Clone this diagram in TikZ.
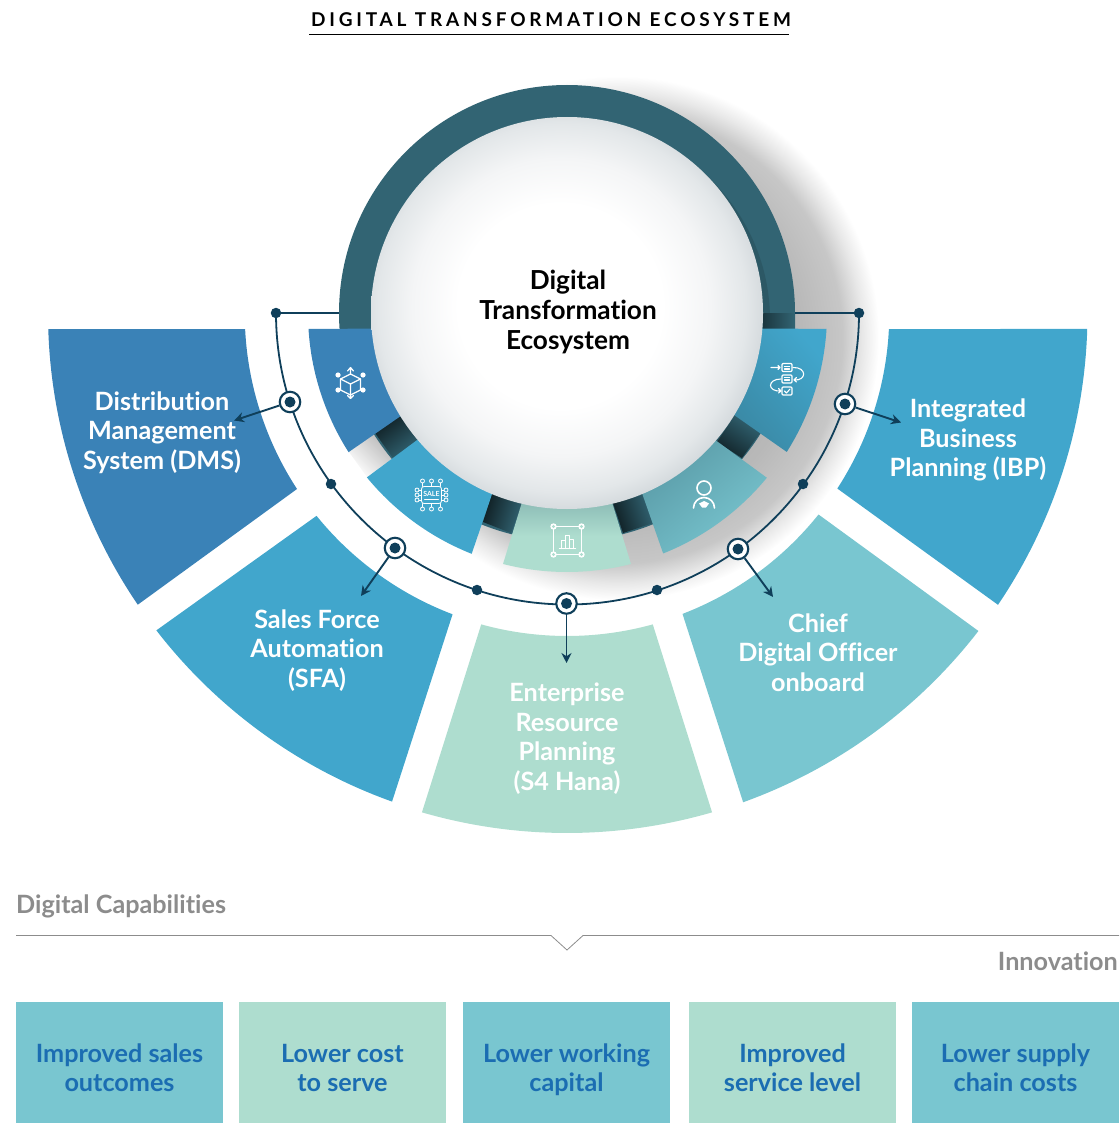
\documentclass[tikz,border=0pt]{standalone}
\usepackage{fontspec}
\setmainfont{Lato}[Ligatures=NoCommon]
\usetikzlibrary{arrows.meta,calc}
\definecolor{cDMS}{HTML}{3A82B7}
\definecolor{cSFA}{HTML}{41A6CC}
\definecolor{cERP}{HTML}{AEDDCF}
\definecolor{cCDO}{HTML}{79C6D0}
\definecolor{cLine}{HTML}{0F3F5A}
\definecolor{cRing}{HTML}{326473}
\definecolor{cBlue}{HTML}{1B6DB2}
\definecolor{cGrey}{HTML}{8C8C8C}
\definecolor{dA}{HTML}{F4F5F6}
\definecolor{dB}{HTML}{E3E7E9}
\definecolor{dC}{HTML}{CDD3D7}
\pgfdeclareradialshading{dischade}{\pgfpoint{-1.2bp}{1.2bp}}{color(0bp)=(white);color(13bp)=(white);color(19bp)=(dA);color(23.5bp)=(dB);color(27bp)=(dC);color(50bp)=(dC)}
\pgfdeclareradialshading{castshade}{\pgfpoint{0bp}{0bp}}{color(0bp)=(white!70!black);color(17.2bp)=(white!72!black);color(21.5bp)=(white!78!black);color(23.4bp)=(white!91!black);color(25bp)=(white);color(50bp)=(white)}
\tikzset{
  x=1pt,y=-1pt,
  lab/.style={font=\fontsize{25.2}{29.5}\selectfont\bfseries,align=center,text=white,inner sep=0pt},
  boxlab/.style={font=\fontsize{25.2}{29.5}\selectfont\bfseries,align=center,text=cBlue,inner sep=0pt},
  grey/.style={font=\fontsize{25.2}{29}\selectfont\bfseries,text=cGrey,inner sep=0pt},
  dot/.style={circle,fill=cLine,minimum size=10.5pt,inner sep=0pt},
  mark ring/.style={circle,draw=cLine,line width=2.1pt,fill=white,minimum size=20.5pt,inner sep=0pt},
  link/.style={cLine,line width=1.8pt},
  arw/.style={cLine,line width=1.9pt,-{Stealth[length=10pt,width=10pt]}},
  ico/.style={white,line width=1.2pt,line cap=round,line join=round},
  bx/.style={minimum height=121pt,anchor=north west,inner sep=0pt}
}
\newcommand{\sectorpath}[6]{(#1:#5) arc[start angle=#1,end angle=#2,radius=#5] -- (#3:#6) arc[start angle=#3,end angle=#4,radius=#6] -- cycle}
\begin{document}
\begin{tikzpicture}
\useasboundingbox (0,0) rectangle (1119,1123);
% cast shadow of the ring
\shade[shading=castshade] (617,338) circle[radius=262];
\shade[left color=white!72!black,right color=white,shading angle=-45] (393,458) -- (375,433) -- (349,452) -- (367,477) -- cycle;

\node[font=\fontsize{19}{22}\selectfont\bfseries,inner sep=0pt,text=black] (title) at (551,20) {\addfontfeature{LetterSpace=20}DIGITAL TRANSFORMATION ECOSYSTEM};
\coordinate (ulA) at (309,34.5); \coordinate (ulB) at (789,34.5);
\draw[black,line width=0.8pt] (ulA) -- (ulB);

\begin{scope}[shift={(567,313)}]
% dark ring
\fill[cRing] (0,0) circle[radius=228];
\fill[cRing!88!black] (7,7) circle[radius=196];
\shade[left color=cRing!30!black,right color=cRing,shading angle=37] (-192,120) -- (-168,102) -- (-149,127) -- (-174,145) -- cycle;
\shade[left color=cRing!30!black,right color=cRing,shading angle=73] (-75,180) -- (-45,190) -- (-56,220) -- (-84,209) -- cycle;
\shade[left color=cRing!30!black,right color=cRing,shading angle=108] (46,190) -- (76,182) -- (86,210) -- (56,220) -- cycle;
\shade[left color=cRing!35!black,right color=cRing,shading angle=145] (150,129) -- (168,102) -- (193,120) -- (175,145) -- cycle;
\shade[left color=cRing!55!black,right color=cRing] (196,0) -- (228,0) -- (228,16) -- (196,16) -- cycle;
% large sectors
\fill[cDMS] \sectorpath{178.23}{145.8}{146.9}{177.15}{519}{322.3};
\fill[cSFA] \sectorpath{142.3}{109.7}{110.8}{141}{519}{322.3};
\fill[cERP] \sectorpath{106.2}{73.8}{74.6}{105.4}{520}{323};
\fill[cCDO] \sectorpath{70.2}{37.7}{38.7}{69}{520}{322.3};
\fill[cSFA] \sectorpath{34.1}{1.76}{2.85}{33}{520.5}{322.3};
% small sectors
\fill[cDMS] \sectorpath{176.46}{147.5}{148.3}{175.3}{259}{190};
\fill[cSFA] \sectorpath{140.6}{111.6}{112.6}{139.6}{259}{190};
\shade[top color=cERP!70!cRing,bottom color=cERP,middle color=cERP] \sectorpath{104.3}{75.7}{76.7}{103.3}{259}{190};
\shade[left color=cCDO!55!cRing,right color=cCDO,shading angle=40] \sectorpath{68.2}{39.5}{40.7}{67.3}{259}{190};
\shade[left color=cSFA!55!cRing,right color=cSFA,shading angle=130] \sectorpath{32.3}{3.5}{4.7}{31.3}{260}{190};
% centre disc
\shade[shading=dischade] (0,0) circle[radius=196];
\end{scope}

\node[font=\fontsize{26.2}{30}\selectfont\bfseries,align=center,text=black,inner sep=0pt] (core) at (568,313.5) {\strut Digital\\Transformation\\Ecosystem\strut};

% timeline arc and markers
\coordinate (arcL) at (276,313);
\coordinate (arcR) at (859,313);
\coordinate (ringL) at (339,313);
\coordinate (ringR) at (795,313);
\draw[link] (arcL) arc[start angle=180,end angle=0,radius=291.5];
\draw[link] (arcL) -- (ringL);
\draw[link] (arcR) -- (ringR);
\node[dot] (d0) at (arcL) {};
\node[dot] (d1) at (331,484) {};
\node[dot] (d2) at (477,590) {};
\node[dot] (d3) at (657,590) {};
\node[dot] (d4) at (803,484) {};
\node[dot] (d5) at (arcR) {};
\node[mark ring] (m1) at (290,402) {};
\node[mark ring] (m2) at (395,548) {};
\node[mark ring] (m3) at (566.5,603.5) {};
\node[mark ring] (m4) at (738,549) {};
\node[mark ring] (m5) at (845,404) {};
\foreach \m in {m1,m2,m3,m4,m5}{\fill[cLine] (\m.center) circle[radius=5.5];}
\coordinate (t1) at (234,420.5);
\coordinate (t2) at (361,596);
\coordinate (t3) at (566.5,663);
\coordinate (t4) at (773,597);
\coordinate (t5) at (901,422.5);
\foreach \a/\b in {m1/t1,m2/t2,m3/t3,m4/t4,m5/t5}{\draw[arw] (\a) -- (\b);}

% sector labels
\node[lab] (l1) at (162,433.6) {\strut Distribution\\Management\\System (DMS)\strut};
\node[lab] (l2) at (317,651.6) {\strut Sales Force\\Automation\\(SFA)\strut};
\node[lab] (l3) at (567,739.9) {\strut Enterprise\\Resource\\Planning\\(S4 Hana)\strut};
\node[lab] (l4) at (818,655.6) {\strut Chief\\Digital Officer\\onboard\strut};
\node[lab] (l5) at (968,441.1) {\strut Integrated\\Business\\Planning (IBP)\strut};

% icon: cube
\begin{scope}[ico,shift={(350.5,383)}]
\draw (0,-9) -- (10,-4) -- (10,7) -- (0,12) -- (-10,7) -- (-10,-4) -- cycle;
\draw (-10,-4) -- (0,1) -- (10,-4) (0,1) -- (0,12);
\draw (0,-9) -- (0,-15) (-3,-12) -- (0,-15.5) -- (3,-12);
\draw (0,12) -- (0,15) (-3,12.5) -- (0,15.5) -- (3,12.5);
\foreach \p in {(-12.5,-8),(12.5,-8),(-12.5,7),(12.5,7)} {\fill[white] \p circle[radius=2.6];}
\end{scope}
% icon: sale chip
\begin{scope}[ico,line width=0.8pt,shift={(431.5,495)}]
\draw[rounded corners=2.5pt] (-10,-8.5) rectangle (10,8.5);
\node[font=\fontsize{7}{8}\selectfont\bfseries,text=white,inner sep=0pt] at (0,-1.5) {SALE};
\draw (-7,4.5) -- (7,4.5);
\foreach \x in {-9,0,9}{\draw (\x,-8.5) -- (\x,-12); \draw (\x,-14) circle[radius=2]; \draw (\x,8.5) -- (\x,12); \draw (\x,14) circle[radius=2];}
\foreach \y in {-5,5,0}{\draw (-10,\y) -- (-12.5,\y); \draw (-14.5,\y) circle[radius=2]; \draw (10,\y) -- (12.5,\y); \draw (14.5,\y) circle[radius=2];}
\end{scope}
% icon: chart
\begin{scope}[ico,line width=1.4pt,shift={(567.5,540.5)}]
\draw (-14,-14) rectangle (14,14);
\foreach \p in {(-14,-14),(14,-14),(-14,14),(14,14)} {\fill[white] \p circle[radius=3.2]; \fill[cERP] \p circle[radius=1.6];}
\draw (-8,8) -- (8,8) (-6,8) -- (-6,0) -- (-2,0) -- (-2,8) (-2,-5) rectangle (2,8) (2,-1) -- (6,-1) -- (6,8);
\end{scope}
% icon: person
\begin{scope}[ico,line width=1.6pt,shift={(704,488)}]
\draw (0,0) circle[radius=7];
\draw (-10.5,20) arc[start angle=180,end angle=360,radius=10.5];
\fill[white] (-5,15.5) -- (0,13) -- (5,15.5) -- (2,19.5) -- (-2,19.5) -- cycle;
\end{scope}
% icon: flow
\begin{scope}[ico,line width=1.1pt,shift={(787,380)}]
\draw[rounded corners=1pt] (-5,-16.5) rectangle (5,-8.5);
\draw[rounded corners=1pt] (-5,-5) rectangle (5,3);
\draw[rounded corners=1pt] (-5,7) rectangle (5,15);
\draw (-2.5,-13.5) -- (2.5,-13.5) (-2.5,-11) -- (2.5,-11) (-2.5,-2.5) -- (2.5,-2.5) (-2.5,0) -- (2.5,0);
\draw (-2.5,11) -- (-0.5,13) -- (3,9);
\draw (-16,-12.5) -- (-7,-12.5) (-9,-14.5) -- (-7,-12.5) -- (-9,-10.5);
\draw (6,-12.5) .. controls (20,-13) and (20,1) .. (7,0) (9.5,-2.5) -- (7,0) -- (9.5,2);
\draw (-6,-1) .. controls (-20,-1) and (-20,12) .. (-6,11) (-8.5,8.5) -- (-6,11) -- (-8.5,13);
\end{scope}

% lower band
\node[grey,anchor=west] (cap) at (16,906.5) {Digital Capabilities};
\coordinate (rA) at (16,935.5); \coordinate (rB) at (551,935.5); \coordinate (rC) at (567,950); \coordinate (rD) at (583,935.5); \coordinate (rE) at (1119,935.5);
\draw[cGrey,line width=0.8pt] (rA) -- (rB) -- (rC) -- (rD) -- (rE);
\node[grey,anchor=east] (inn) at (1118,961) {Innovation};

\node[bx,fill=cCDO,minimum width=207pt] (b1) at (16,1002) {};
\node[bx,fill=cERP,minimum width=207pt] (b2) at (239,1002) {};
\node[bx,fill=cCDO,minimum width=207pt] (b3) at (463,1002) {};
\node[bx,fill=cERP,minimum width=207pt] (b4) at (689,1002) {};
\node[bx,fill=cCDO,minimum width=207pt] (b5) at (912,1002) {};
\node[boxlab] at (119.5,1071) {\strut Improved sales\\outcomes\strut};
\node[boxlab] at (342.5,1071) {\strut Lower cost\\to serve\strut};
\node[boxlab] at (566.5,1071) {\strut Lower working\\capital\strut};
\node[boxlab] at (792.5,1071) {\strut Improved\\service level\strut};
\node[boxlab] at (1015.5,1071) {\strut Lower supply\\chain costs\strut};
\end{tikzpicture}
\end{document}
